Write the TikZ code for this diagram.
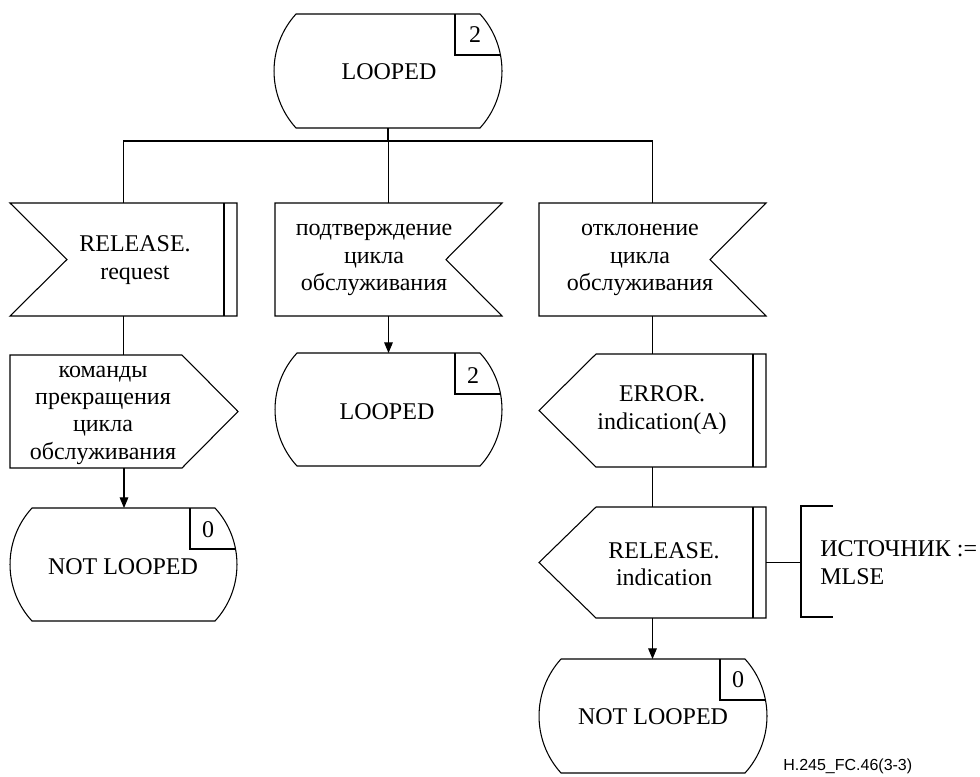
\documentclass[tikz,border=0pt]{standalone}
\usepackage{fontspec}
\setmainfont{Liberation Serif}
\newfontfamily\labelsans{Liberation Sans}
\usetikzlibrary{calc,arrows.meta}

\tikzset{
  ln/.style={line width=0.8pt, draw=black},
  arr/.style={ln, -{Triangle[length=8pt,width=6.5pt]}},
  shp/.style n args={2}{draw=none, inner sep=0pt, outer sep=0pt, minimum width=#1, minimum height=#2},
  txt/.style={inner sep=0pt, align=center, font=\fontsize{18}{20.5}\selectfont},
  numtxt/.style={inner sep=0pt, font=\fontsize{18}{20.5}\selectfont},
}

% state symbol outline with number box
\newcommand{\StateOutline}[1]{%
  \draw[ln] ($(#1.north west)+(22,0)$) -- ($(#1.north east)+(-22,0)$)
    .. controls ($(#1.east)+(7.3,-24.7)$) and ($(#1.east)+(7.3,24.7)$) .. ($(#1.south east)+(-22,0)$)
    -- ($(#1.south west)+(22,0)$)
    .. controls ($(#1.west)+(-7.3,24.7)$) and ($(#1.west)+(-7.3,-24.7)$) .. cycle;
  \draw[ln] ($(#1.north east)+(-47,0)$) -- ($(#1.north east)+(-47,41)$) -- ($(#1.north east)+(-1.5,41)$);}

% input, notch on the left, double bar at right
\newcommand{\InLeft}[1]{%
  \draw[ln] (#1.north west) -- (#1.north east) -- (#1.south east) -- (#1.south west) -- ($(#1.west)+(57,0)$) -- cycle;
  \draw[ln] ($(#1.north east)+(-13,0)$) -- ($(#1.south east)+(-13,0)$);}
% input, notch on the right
\newcommand{\InRight}[1]{%
  \draw[ln] (#1.north west) -- (#1.north east) -- ($(#1.east)+(-56,0)$) -- (#1.south east) -- (#1.south west) -- cycle;}
% output pointing right
\newcommand{\OutRight}[1]{%
  \draw[ln] (#1.north west) -- ($(#1.north east)+(-56,0)$) -- (#1.east) -- ($(#1.south east)+(-56,0)$) -- (#1.south west) -- cycle;}
% output pointing left with double bar
\newcommand{\OutLeft}[1]{%
  \draw[ln] (#1.west) -- ($(#1.north west)+(57,0)$) -- (#1.north east) -- (#1.south east) -- ($(#1.south west)+(57,0)$) -- cycle;
  \draw[ln] ($(#1.north east)+(-13,0)$) -- ($(#1.south east)+(-13,0)$);}

\begin{document}
\begin{tikzpicture}[x=0.75pt,y=-0.75pt]
\useasboundingbox (0,0) rectangle (980,776);

% shape frames
\node[shp={171pt}{85.5pt}] (s0) at (388,71) {};
\node[shp={170.25pt}{84.75pt}] (in1) at (123.5,259.5) {};
\node[shp={170.25pt}{84.75pt}] (in2) at (388.5,259.5) {};
\node[shp={170.25pt}{84.75pt}] (in3) at (652.5,259.5) {};
\node[shp={171pt}{84.75pt}] (out1) at (124,411.5) {};
\node[shp={170.25pt}{84.75pt}] (s1) at (388.5,409.5) {};
\node[shp={170.25pt}{84.75pt}] (s2) at (123.5,564.5) {};
\node[shp={170.25pt}{84.75pt}] (out2) at (652.5,410.5) {};
\node[shp={170.25pt}{83.25pt}] (out3) at (652.5,562.5) {};
\node[shp={171pt}{85.5pt}] (s3) at (653,716) {};

\StateOutline{s0}
\StateOutline{s1}
\StateOutline{s2}
\StateOutline{s3}
\InLeft{in1}
\InRight{in2}
\InRight{in3}
\OutRight{out1}
\OutLeft{out2}
\OutLeft{out3}

% texts
\node[txt] (s0t) at (389,72) {LOOPED};
\node[numtxt] (s0n) at (475,35) {2};
\node[txt] (in1t) at (135,260) {RELEASE.\\request};
\node[txt] (in2t) at (374,260) {подтверждение\\цикла\\обслуживания};
\node[txt] (in3t) at (640,260) {отклонение\\цикла\\обслуживания};
\node[txt] (out1t) at (103,415) {команды\\прекращения\\цикла\\обслуживания};
\node[txt] (s1t) at (387,412) {LOOPED};
\node[numtxt] (s1n) at (473,376) {2};
\node[txt] (s2t) at (123,567) {NOT LOOPED};
\node[numtxt] (s2n) at (208,530) {0};
\node[txt] (out2t) at (662,410) {ERROR.\\indication(A)};
\node[txt] (out3t) at (664,564) {RELEASE.\\indication};
\node[txt] (s3t) at (653,717) {NOT LOOPED};
\node[numtxt] (s3n) at (738,680) {0};

% connectors
\coordinate (j) at (388,141);
\draw[ln] (s0.south) -- (j);
\draw[ln] (in1.north) |- (in3.north |- j) -- (in3.north);
\draw[ln] (in2.north) -- (in2.north |- j);
\draw[ln] (in1.south) -- (in1.south |- out1.north);
\draw[arr] (out1.south) -- (out1.south |- s2.north);
\draw[arr] (in2.south) -- (in2.south |- s1.north);
\draw[ln] (in3.south) -- (in3.south |- out2.north);
\draw[ln] (out2.south) -- (out2.south |- out3.north);
\draw[arr] (out3.south) -- (out3.south |- s3.north);

% comment
\coordinate (cm) at (801,562.5);
\draw[ln] (out3.east) -- (cm);
\coordinate (cbt) at (833,506);
\coordinate (cbb) at (833,617);
\draw[ln] (cbt) -- (cbt -| cm) -- (cbb -| cm) -- (cbb);
\node[txt, anchor=west, align=left] (cmt) at (820,562.5) {ИСТОЧНИК :=\\MLSE};

\node[anchor=west, inner sep=0pt, font=\labelsans\fontsize{12}{14}\selectfont] (fig) at (783,766) {H.245\_FC.46(3-3)};
\end{tikzpicture}
\end{document}
